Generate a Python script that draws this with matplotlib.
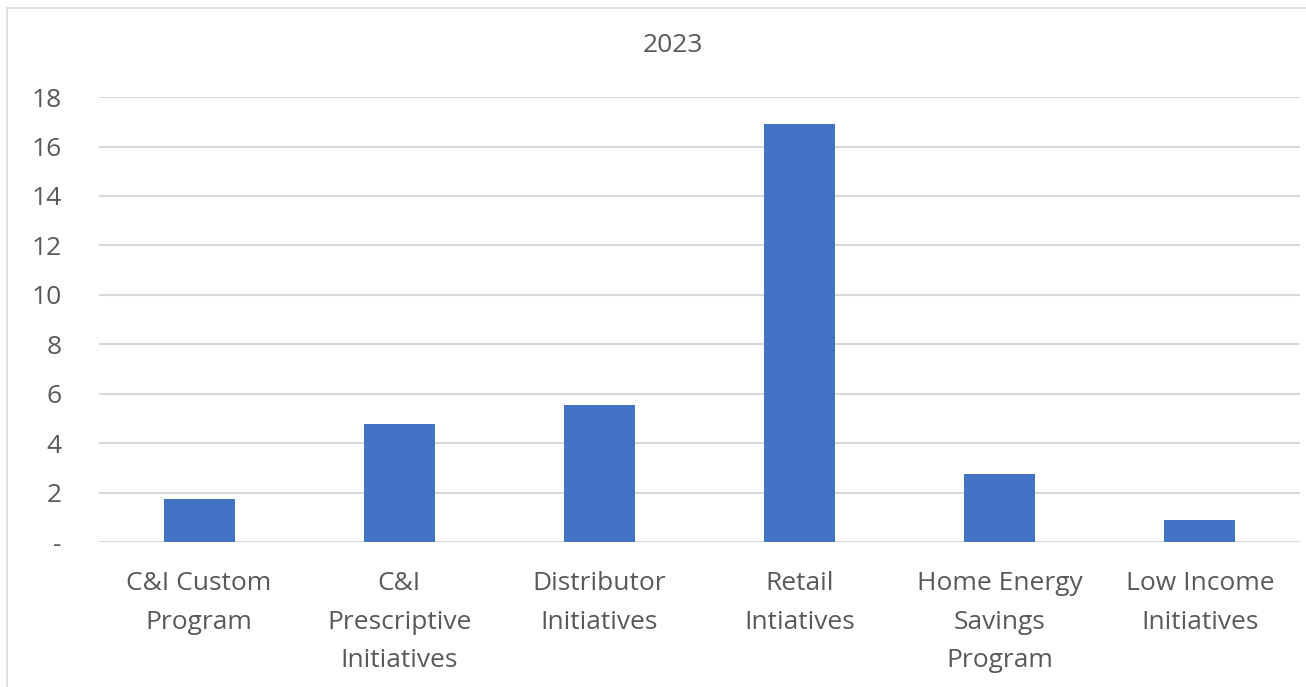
import matplotlib.pyplot as plt
from matplotlib.patches import Rectangle
from matplotlib.ticker import FuncFormatter

categories = ['C&I Custom\nProgram', 'C&I\nPrescriptive\nInitiatives', 'Distributor\nInitiatives',
              'Retail\nIntiatives', 'Home Energy\nSavings\nProgram', 'Low Income\nInitiatives']
values = [1.74, 4.77, 5.54, 16.91, 2.75, 0.89]
yticks = [0, 2, 4, 6, 8, 10, 12, 14, 16, 18]
title = '2023'

plt.rcParams['font.family'] = ['Open Sans', 'DejaVu Sans']
text_color = '#595959'
grid_color = '#D9D9D9'
fs = 19

fig = plt.figure(figsize=(13.06, 6.87), dpi=100)
ax = fig.add_axes([0.0758, 0.211, 0.9196, 0.6477])

# chart area border
fig.patches.append(Rectangle((7 / 1306, -0.1), 1.2, 1 - 8 / 687 + 0.1, transform=fig.transFigure,
                             fill=False, edgecolor=grid_color, linewidth=1.2))

x = range(len(categories))
ax.bar(x, values, width=0.355, color='#4472C4', zorder=3)

ax.set_xlim(-0.5, len(categories) - 0.5)
ax.set_ylim(0, 18)
ax.set_yticks(yticks)
ax.yaxis.set_major_formatter(FuncFormatter(lambda v, p: '-' if v == 0 else '%d' % v))
ax.set_xticks(list(x))
ax.set_xticklabels(categories, linespacing=1.7)

ax.grid(axis='y', color=grid_color, linewidth=1.5, zorder=0)
for s in ax.spines.values():
    s.set_visible(False)
ax.tick_params(axis='both', length=0, colors=text_color, labelsize=fs)
ax.tick_params(axis='y', pad=27)
ax.tick_params(axis='x', pad=21)

fig.text(0.5155, 1 - 46 / 687, title, ha='center', va='center', fontsize=fs, color=text_color)

plt.savefig('out.png', dpi=100)
